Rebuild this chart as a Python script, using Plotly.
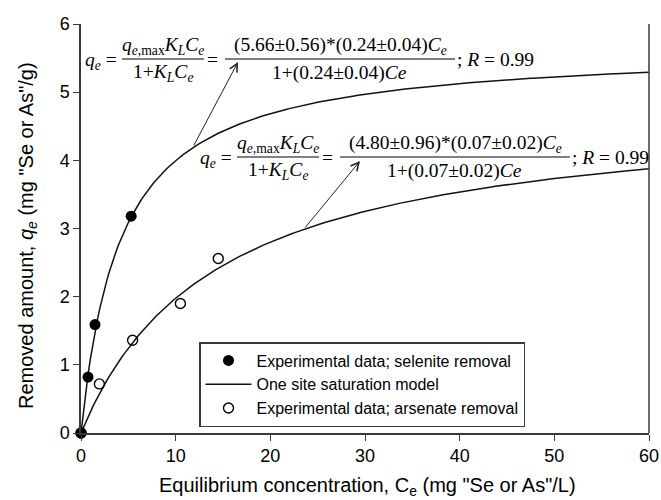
import numpy as np
import plotly.graph_objects as go

# ---- data ----
se_ce = [0.0, 0.74, 1.48, 5.3]
se_qe = [0.0, 0.82, 1.59, 3.18]
as_ce = [0.0, 1.94, 5.45, 10.5, 14.5]
as_qe = [0.0, 0.72, 1.36, 1.90, 2.56]

# fitted one-site saturation (Langmuir) parameters as printed on the chart
se_qmax, se_kl = 5.66, 0.24
as_qmax, as_kl = 4.80, 0.07

x_ticks = [0, 10, 20, 30, 40, 50, 60]
y_ticks = [0, 1, 2, 3, 4, 5, 6]

legend_names = ["Experimental data; selenite removal",
                "One site saturation model",
                "Experimental data; arsenate removal"]

# ---- layout constants (pixels) ----
W, H = 661, 500
L, R, T, B = 81, 12, 24, 67
PW, PH = W - L - R, H - T - B
AX = "#3a3a3a"
SANS = "Liberation Sans, Arial, sans-serif"
SERIF = "Liberation Serif, Times New Roman, serif"


def px(x):
    return (x - L) / PW


def py(y):
    return (H - B - y) / PH


ce_line = np.linspace(0, 60, 241)
se_model = se_qmax * se_kl * ce_line / (1 + se_kl * ce_line)
as_model = as_qmax * as_kl * ce_line / (1 + as_kl * ce_line)

fig = go.Figure()
fig.add_trace(go.Scatter(x=ce_line, y=se_model, mode="lines", name=legend_names[1],
                         line=dict(color="#111111", width=1.5), legendrank=2, showlegend=True))
fig.add_trace(go.Scatter(x=ce_line, y=as_model, mode="lines", name=legend_names[1],
                         line=dict(color="#111111", width=1.5), showlegend=False))
fig.add_trace(go.Scatter(x=se_ce, y=se_qe, mode="markers", name=legend_names[0],
                         marker=dict(symbol="circle", size=11, color="black"),
                         legendrank=1, cliponaxis=False))
fig.add_trace(go.Scatter(x=as_ce, y=as_qe, mode="markers", name=legend_names[2],
                         marker=dict(symbol="circle-open", size=10, color="black",
                                     line=dict(width=1.4)),
                         legendrank=3, cliponaxis=False))

annotations = []
shapes = []

# axis titles
annotations.append(dict(xref="paper", yref="paper", x=px(367), y=py(486),
                        text="Equilibrium concentration, C<sub>e</sub> (mg \"Se or As\"/L)",
                        showarrow=False, font=dict(family=SANS, size=20, color="black"),
                        xanchor="center", yanchor="middle"))
annotations.append(dict(xref="paper", yref="paper", x=px(28), y=py(236),
                        text="Removed amount, <i>q<sub>e</sub></i> (mg \"Se or As\"/g)",
                        textangle=-90, showarrow=False,
                        font=dict(family=SANS, size=20, color="black"),
                        xanchor="center", yanchor="middle"))


def add_equation(dx, dy, num2, den2):
    f = dict(family=SERIF, size=19.5, color="black")
    def txt(x, y, s, anchor="center"):
        annotations.append(dict(xref="paper", yref="paper", x=px(x + dx), y=py(y + dy),
                                text=s, showarrow=False, font=f,
                                xanchor=anchor, yanchor="middle"))
    def bar(x0, x1, y):
        shapes.append(dict(type="line", xref="paper", yref="paper",
                           x0=px(x0 + dx), x1=px(x1 + dx), y0=py(y + dy), y1=py(y + dy),
                           line=dict(color="black", width=1)))
    txt(83, 61, "<i>q<sub>e</sub></i> =", "left")
    txt(163, 46, "<i>q<sub>e</sub></i><sub>,max</sub><i>K<sub>L</sub>C<sub>e</sub></i>")
    bar(122, 204, 59)
    txt(163, 73, "1+<i>K<sub>L</sub>C<sub>e</sub></i>")
    txt(212, 60, "=")
    txt(340, 46, num2)
    bar(225, 455, 59)
    txt(339, 73, den2)
    txt(455, 60, "; <i>R</i> = 0.99", "left")


add_equation(0, 0, "(5.66±0.56)*(0.24±0.04)<i>C<sub>e</sub></i>", "1+(0.24±0.04)<i>Ce</i>")
add_equation(115, 98, "(4.80±0.96)*(0.07±0.02)<i>C<sub>e</sub></i>", "1+(0.07±0.02)<i>Ce</i>")

# arrows pointing from curves to equations
for tip, tail in [((238, 62), (193, 147)), ((360, 161), (304, 229))]:
    annotations.append(dict(xref="paper", yref="paper", x=px(tip[0]), y=py(tip[1]),
                            ax=tail[0] - tip[0], ay=tail[1] - tip[1],
                            showarrow=True, arrowhead=5, arrowsize=1.6, arrowwidth=1,
                            arrowcolor="#222222", text=""))

# right frame line
shapes.append(dict(type="line", xref="paper", yref="paper", x0=1, x1=1, y0=0, y1=1,
                   line=dict(color=AX, width=1.5)))

fig.update_layout(
    width=W, height=H,
    margin=dict(l=L, r=R, t=T, b=B, pad=0, autoexpand=False),
    paper_bgcolor="white", plot_bgcolor="white",
    font=dict(family=SANS, size=17, color="black"),
    xaxis=dict(range=[0, 60], tickvals=x_ticks, ticks="outside", ticklen=6,
               tickwidth=1.2, tickcolor=AX, showline=True, linecolor=AX, linewidth=1.5,
               showgrid=False, zeroline=False, tickfont=dict(size=18), mirror=False,
               automargin=False),
    yaxis=dict(range=[0, 6], tickvals=y_ticks, ticks="outside", ticklen=6,
               tickwidth=1.2, tickcolor=AX, showline=True, linecolor=AX, linewidth=1.5,
               showgrid=False, zeroline=False, tickfont=dict(size=18), automargin=False),
    legend=dict(x=px(199), y=py(342), xanchor="left", yanchor="top",
                bgcolor="white", bordercolor=AX, borderwidth=1.5,
                font=dict(family=SANS, size=16, color="black"),
                itemwidth=46, traceorder="normal"),
    annotations=annotations,
    shapes=shapes,
    showlegend=True,
)

fig.write_html("out.html", config={"displayModeBar": False},
               post_script="document.body.style.margin='0';")
